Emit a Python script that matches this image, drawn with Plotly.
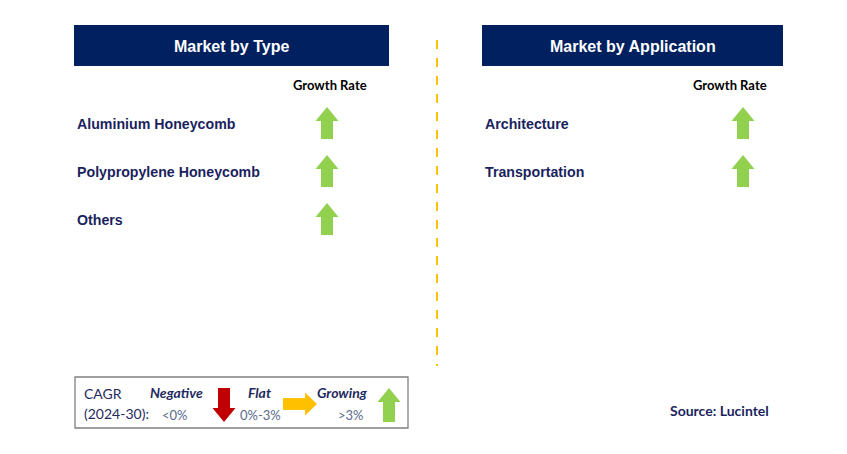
import plotly.graph_objects as go

# ---- data ----
type_categories = ["Aluminium Honeycomb", "Polypropylene Honeycomb", "Others"]
type_growth = ["Growing", "Growing", "Growing"]
app_categories = ["Architecture", "Transportation"]
app_growth = ["Growing", "Growing"]
panel_titles = ["Market by Type", "Market by Application"]
legend_labels = ["Negative", "Flat", "Growing"]
legend_ranges = ["<0%", "0%-3%", ">3%"]
cagr_label = ["CAGR", "(2024-30):"]
source_text = "Source: Lucintel"

NAVY = "#002060"
TXT = "#1B1F5E"
GREEN = "#92D050"
RED = "#C00000"
YELLOW = "#FFC000"

fig = go.Figure()
shapes = []
annotations = []


def up_arrow(cx, top, bottom, color, w=23, shaft=12, head=14):
    hb = top + head
    p = (f"M {cx - shaft/2} {bottom} L {cx - shaft/2} {hb} L {cx - w/2} {hb} "
         f"L {cx} {top} L {cx + w/2} {hb} L {cx + shaft/2} {hb} L {cx + shaft/2} {bottom} Z")
    return dict(type="path", path=p, fillcolor=color, line=dict(width=0), layer="above")


def down_arrow(cx, top, bottom, color, w=23, shaft=12, head=14):
    ht = bottom - head
    p = (f"M {cx - shaft/2} {top} L {cx - shaft/2} {ht} L {cx - w/2} {ht} "
         f"L {cx} {bottom} L {cx + w/2} {ht} L {cx + shaft/2} {ht} L {cx + shaft/2} {top} Z")
    return dict(type="path", path=p, fillcolor=color, line=dict(width=0), layer="above")


def right_arrow(left, right, cy, color, h=23, shaft=12, head=13):
    hl = right - head
    p = (f"M {left} {cy - shaft/2} L {hl} {cy - shaft/2} L {hl} {cy - h/2} "
         f"L {right} {cy} L {hl} {cy + h/2} L {hl} {cy + shaft/2} L {left} {cy + shaft/2} Z")
    return dict(type="path", path=p, fillcolor=color, line=dict(width=0), layer="above")


def arrow_for(status, cx, top, bottom):
    if status == "Growing":
        return up_arrow(cx, top, bottom, GREEN)
    if status == "Negative":
        return down_arrow(cx, top, bottom, RED)
    return right_arrow(cx - 17, cx + 17, (top + bottom) / 2, YELLOW)


# panels
panels = [
    dict(x0=74, x1=389, label_x=75, arrow_x=327, gr_x=330, cats=type_categories, growth=type_growth),
    dict(x0=482, x1=783, label_x=483, arrow_x=743, gr_x=730, cats=app_categories, growth=app_growth),
]
row_y0 = 124
row_step = 48
for title, pn in zip(panel_titles, panels):
    shapes.append(dict(type="rect", x0=pn["x0"], x1=pn["x1"], y0=25, y1=66,
                       fillcolor=NAVY, line=dict(width=0), layer="below"))
    annotations.append(dict(x=(pn["x0"] + pn["x1"]) / 2, y=46, text=f"<b>{title}</b>",
                            showarrow=False, font=dict(family="Liberation Sans, Arial", size=16, color="white"),
                            xanchor="center", yanchor="middle"))
    annotations.append(dict(x=pn["gr_x"], y=85, text="<b>Growth Rate</b>", showarrow=False,
                            font=dict(family="Lato, Liberation Sans", size=13, color="black"),
                            xanchor="center", yanchor="middle"))
    for i, (cat, g) in enumerate(zip(pn["cats"], pn["growth"])):
        yc = row_y0 + i * row_step
        annotations.append(dict(x=pn["label_x"], y=yc, text=f"<b>{cat}</b>", showarrow=False,
                                font=dict(family="Liberation Sans, Arial", size=14.2, color=TXT),
                                xanchor="left", yanchor="middle"))
        shapes.append(arrow_for(g, pn["arrow_x"], yc - 17, yc + 15))

# divider
shapes.append(dict(type="line", x0=437, x1=437, y0=40, y1=366,
                   line=dict(color=YELLOW, width=2, dash="dash")))

# legend box
shapes.append(dict(type="rect", x0=75, x1=408, y0=377, y1=428,
                   fillcolor="white", line=dict(color="#7F7F7F", width=1.3), layer="below"))
annotations.append(dict(x=82, y=393, text=cagr_label[0], showarrow=False, xanchor="left", yanchor="middle",
                        font=dict(family="Lato, Liberation Sans", size=14, color="#1F2A5E")))
annotations.append(dict(x=82, y=413, text=cagr_label[1], showarrow=False, xanchor="left", yanchor="middle",
                        font=dict(family="Lato, Liberation Sans", size=14, color="#1F2A5E")))
leg_text_x = [176, 259, 342]
leg_range_x = [175, 260, 351]
leg_arrow_x = [224, 300, 389]
for lbl, rng, tx, rx, ax in zip(legend_labels, legend_ranges, leg_text_x, leg_range_x, leg_arrow_x):
    annotations.append(dict(x=tx, y=392, text=f"<b><i>{lbl}</i></b>", showarrow=False,
                            xanchor="center", yanchor="middle",
                            font=dict(family="Lato, Liberation Sans", size=14, color="#1F2A5E")))
    annotations.append(dict(x=rx, y=415, text=rng, showarrow=False, xanchor="center", yanchor="middle",
                            font=dict(family="Lato, Liberation Sans", size=13, color="#5A6A8A")))
    if lbl == "Flat":
        shapes.append(right_arrow(283, 317, 404, YELLOW, h=23, shaft=12, head=12))
    elif lbl == "Negative":
        shapes.append(down_arrow(ax, 388, 422, RED))
    else:
        shapes.append(up_arrow(ax, 388, 422, GREEN))

annotations.append(dict(x=719, y=410, text=f"<b>{source_text}</b>", showarrow=False,
                        xanchor="center", yanchor="middle",
                        font=dict(family="Lato, Liberation Sans", size=14, color=TXT)))

# page body has an 8px margin: shrink the figure and offset the ranges so
# that axis units coincide with window pixels
OFF = 8
fig.update_layout(
    width=847 - OFF, height=454 - OFF,
    margin=dict(l=0, r=0, t=0, b=0),
    paper_bgcolor="white", plot_bgcolor="white",
    xaxis=dict(range=[OFF, 847], visible=False, fixedrange=True),
    yaxis=dict(range=[454, OFF], visible=False, fixedrange=True),
    shapes=shapes, annotations=annotations, showlegend=False,
)
fig.write_html("out.html")
